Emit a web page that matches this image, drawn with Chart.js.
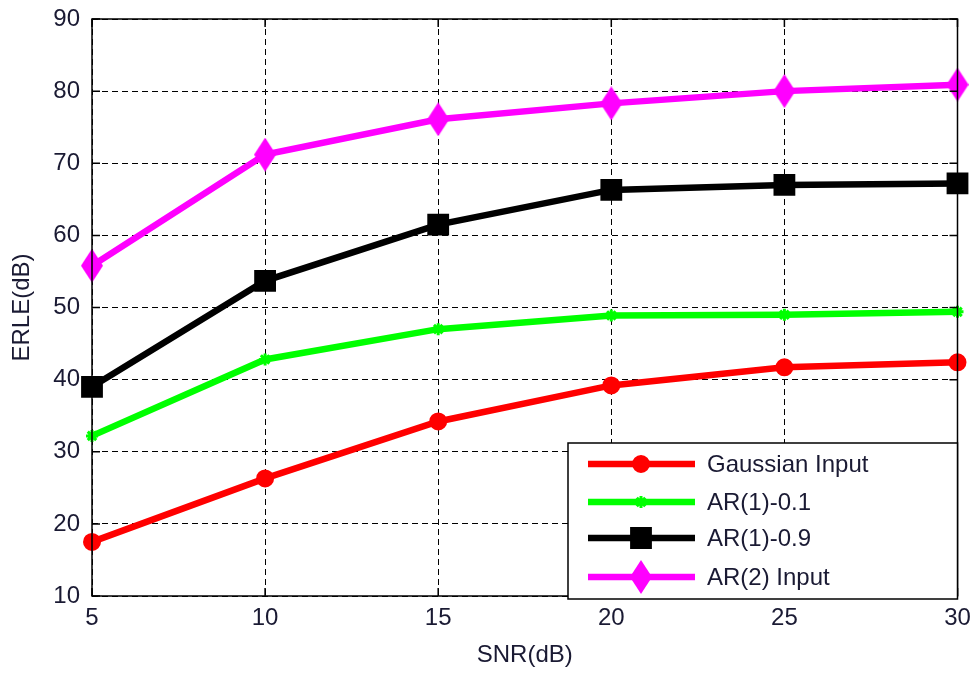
<!DOCTYPE html>
<html>
<head>
<meta charset="utf-8">
<script src="https://cdn.jsdelivr.net/npm/chart.js@4/dist/chart.umd.min.js"></script>
<style>
  html, body { margin: 0; padding: 0; background: #fff; }
  #wrap { width: 975px; height: 673px; }
</style>
</head>
<body>
<div id="wrap"><canvas id="erleChart" width="975" height="673"></canvas></div>
<script>
// SNR sweep (dB) and ERLE results (dB) per input type
const snrValues = [5, 10, 15, 20, 25, 30];
const gaussianErle = [17.5, 26.3, 34.2, 39.2, 41.7, 42.4];
const ar1LowErle = [32.2, 42.8, 47.0, 48.9, 49.0, 49.4];
const ar1HighErle = [39.0, 53.7, 61.5, 66.3, 67.0, 67.2];
const ar2Erle = [55.8, 71.2, 76.1, 78.3, 80.0, 80.9];
const seriesLabels = ['Gaussian Input', 'AR(1)-0.1', 'AR(1)-0.9', 'AR(2) Input'];
const xTicks = [5, 10, 15, 20, 25, 30];
const yTicks = [10, 20, 30, 40, 50, 60, 70, 80, 90];

const textColor = '#1a1a33';
const font = { family: 'Liberation Sans, Arial, sans-serif', size: 24 };

// tall diamond marker
function makeDiamond(w, h, color) {
    const c = document.createElement('canvas');
    c.width = w; c.height = h;
    const g = c.getContext('2d');
    g.fillStyle = color;
    g.beginPath();
    g.moveTo(w / 2, 0);
    g.lineTo(w, h / 2);
    g.lineTo(w / 2, h);
    g.lineTo(0, h / 2);
    g.closePath();
    g.fill();
    return c;
}
const diamond = makeDiamond(22, 34, '#ff00ff');

const toPoints = ys => snrValues.map((x, i) => ({ x: x, y: ys[i] }));

const datasets = [
    { label: seriesLabels[0], data: toPoints(gaussianErle), borderColor: '#ff0000', backgroundColor: '#ff0000',
      pointStyle: 'circle', pointRadius: 8, pointBorderWidth: 2 },
    { label: seriesLabels[1], data: toPoints(ar1LowErle), borderColor: '#00ff00', backgroundColor: '#00ff00',
      pointStyle: 'star', pointRadius: 6, pointBorderWidth: 3 },
    { label: seriesLabels[2], data: toPoints(ar1HighErle), borderColor: '#000000', backgroundColor: '#000000',
      pointStyle: 'rect', pointRadius: 14, pointBorderWidth: 2 },
    { label: seriesLabels[3], data: toPoints(ar2Erle), borderColor: '#ff00ff', backgroundColor: '#ff00ff',
      pointStyle: diamond, pointRadius: 11 }
].map(d => Object.assign({ borderWidth: 6.5, tension: 0, fill: false, clip: false }, d));

// axes box, inward ticks and the legend drawn inside the plot
const matlabFrame = {
    id: 'matlabFrame',
    afterDraw(chart) {
        const { ctx, chartArea: a, scales } = chart;
        ctx.save();
        ctx.strokeStyle = '#000';
        ctx.lineWidth = 1.5;
        ctx.setLineDash([]);
        ctx.strokeRect(a.left, a.top, a.right - a.left, a.bottom - a.top);
        const tl = 8;
        ctx.beginPath();
        xTicks.forEach(v => {
            const px = scales.x.getPixelForValue(v);
            ctx.moveTo(px, a.bottom); ctx.lineTo(px, a.bottom - tl);
            ctx.moveTo(px, a.top); ctx.lineTo(px, a.top + tl);
        });
        yTicks.forEach(v => {
            const py = scales.y.getPixelForValue(v);
            ctx.moveTo(a.left, py); ctx.lineTo(a.left + tl, py);
            ctx.moveTo(a.right, py); ctx.lineTo(a.right - tl, py);
        });
        ctx.stroke();

        // legend box
        const box = { left: 568, top: 443, right: a.right, bottom: a.bottom + 3 };
        ctx.fillStyle = '#fff';
        ctx.fillRect(box.left, box.top, box.right - box.left, box.bottom - box.top);
        ctx.lineWidth = 1.5;
        ctx.strokeRect(box.left, box.top, box.right - box.left, box.bottom - box.top);
        const rowY = [464, 502, 538, 577];
        ctx.font = font.size + 'px ' + font.family;
        ctx.textBaseline = 'middle';
        chart.data.datasets.forEach((ds, i) => {
            const y = rowY[i];
            ctx.strokeStyle = ds.borderColor;
            ctx.lineWidth = ds.borderWidth;
            ctx.beginPath();
            ctx.moveTo(588, y); ctx.lineTo(695, y);
            ctx.stroke();
            ctx.fillStyle = ds.backgroundColor;
            ctx.strokeStyle = ds.borderColor;
            ctx.lineWidth = ds.pointBorderWidth || 1;
            Chart.helpers.drawPoint(ctx, { pointStyle: ds.pointStyle, radius: ds.pointRadius, rotation: 0, borderWidth: ds.pointBorderWidth || 0 }, 641, y);
            ctx.fillStyle = textColor;
            ctx.fillText(ds.label, 707, y + 1);
        });
        ctx.restore();
    }
};

new Chart(document.getElementById('erleChart'), {
    type: 'line',
    data: { datasets: datasets },
    options: {
        responsive: false,
        animation: false,
        layout: { padding: { top: 19, right: 17, left: 0, bottom: 0 } },
        plugins: { legend: { display: false }, tooltip: { enabled: false } },
        scales: {
            x: {
                type: 'linear',
                min: 5, max: 30,
                afterBuildTicks: s => { s.ticks = xTicks.map(v => ({ value: v })); },
                afterFit: s => { s.height = 77; s.paddingLeft = 0; s.paddingRight = 0; },
                ticks: { color: textColor, font: font, padding: 8, maxRotation: 0 },
                grid: { color: '#000', lineWidth: 1, drawTicks: false },
                border: { display: false, dash: [6, 4] },
                title: { display: true, text: 'SNR(dB)', color: textColor, font: font, padding: { top: 0, bottom: 3 } }
            },
            y: {
                min: 10, max: 90,
                afterBuildTicks: s => { s.ticks = yTicks.map(v => ({ value: v })); },
                afterFit: s => { s.width = 92; s.paddingTop = 0; s.paddingBottom = 0; },
                ticks: { color: textColor, font: font, padding: 12 },
                grid: { color: '#000', lineWidth: 1, drawTicks: false },
                border: { display: false, dash: [6, 4] },
                title: { display: true, text: 'ERLE(dB)', color: textColor, font: font, padding: { top: 8, bottom: 0 } }
            }
        }
    },
    plugins: [matlabFrame]
});
</script>
</body>
</html>
